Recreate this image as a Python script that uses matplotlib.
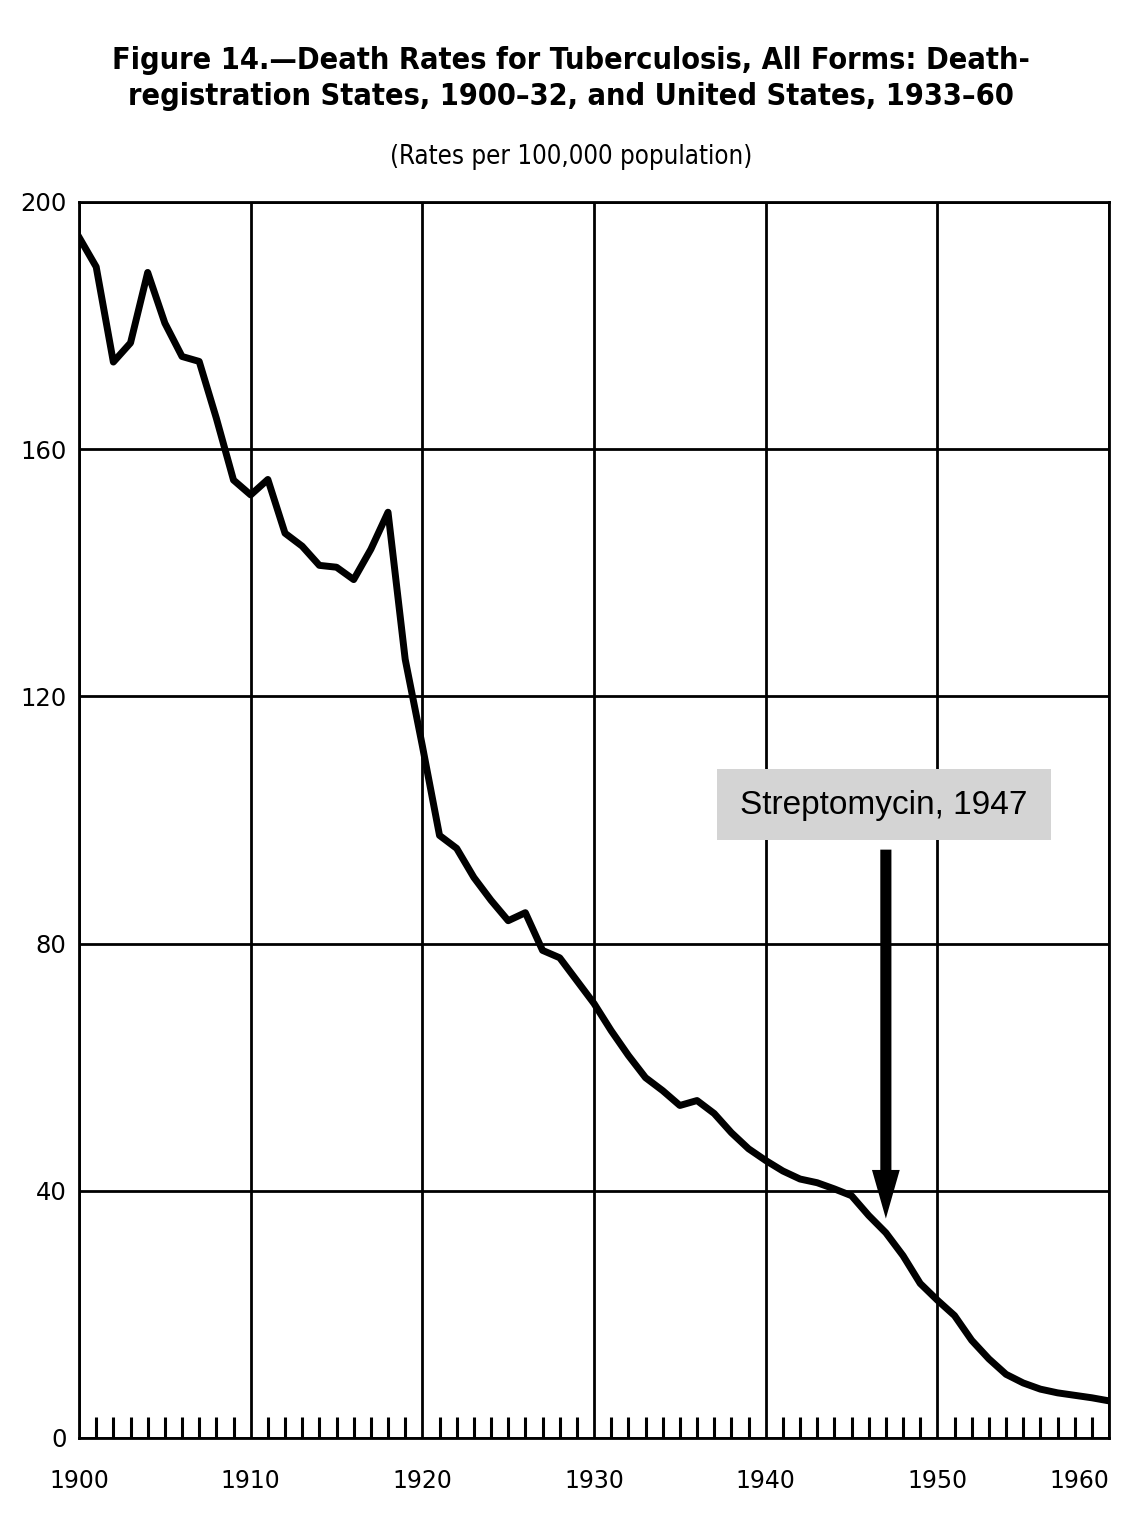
import matplotlib
matplotlib.use("Agg")
import matplotlib.pyplot as plt
from matplotlib.patches import Rectangle

# death rates per 100,000
years = list(range(1900, 1961))
rates = [
    194.3, 189.5, 174.1, 177.2, 188.6, 180.4, 175.0, 174.2, 165.0, 155.0,  # 1900s
    152.6, 155.1, 146.4, 144.3, 141.2, 140.9, 138.9, 143.8, 149.8, 126.0,  # 1910s
    112.0, 97.5, 95.4, 90.7, 87.0, 83.7, 85.0, 78.9, 77.7, 74.0,  # 1920s
    70.3, 65.9, 61.9, 58.3, 56.2, 53.8, 54.6, 52.5, 49.4, 46.8,  # 1930s
    44.9, 43.2, 41.9, 41.3, 40.3, 39.2, 36.0, 33.2, 29.5, 25.0,  # 1940s
    22.3, 19.8, 15.8, 12.8, 10.3, 8.9, 7.9, 7.3, 6.9, 6.5,  # 1950s
    6.0,
]

major_years = [1900, 1910, 1920, 1930, 1940, 1950, 1960]
y_ticks = [0, 40, 80, 120, 160, 200]

title = ("Figure 14.\u2014Death Rates for Tuberculosis, All Forms: Death-\n"
         "registration States, 1900\u201332, and United States, 1933\u201360")
subtitle = "(Rates per 100,000 population)"
note = "Streptomycin, 1947"
note_year = 1947

fig = plt.figure(figsize=(11.37, 15.13), dpi=100)
ax = fig.add_axes([0.0695, 0.0496, 0.9059, 0.8169])

ax.plot(years, rates, color="black", lw=5, solid_joinstyle="round", zorder=3)

ax.set_xlim(1900, 1960)
ax.set_ylim(0, 200)
ax.set_xticks(major_years)
ax.set_xticks([y for y in years if y % 10 != 0], minor=True)
ax.set_yticks(y_ticks)
ax.grid(True, which="major", color="black", lw=2)

ax.tick_params(axis="x", which="major", length=0, pad=22, labelsize=17)
ax.tick_params(axis="x", which="minor", direction="in", length=15, width=2.2)
ax.tick_params(axis="y", which="major", length=0, pad=9, labelsize=17.5)
ax.tick_params(axis="y", which="minor", length=0)
labels = ax.get_xticklabels()
labels[-1].set_horizontalalignment("right")
labels[-1].set_x(1960.3)

for s in ax.spines.values():
    s.set_linewidth(2)

# annotation box and arrow
ax.add_patch(Rectangle((1937.15, 96.7), 19.45, 11.5, facecolor="#d4d4d4",
                       edgecolor="none", zorder=4))
ax.text(note_year - 0.1, 102.4, note, ha="center", va="center", fontsize=24,
        family=["Liberation Sans", "DejaVu Sans"], zorder=5)
ax.annotate("", xy=(note_year, 35.5), xytext=(note_year, 95.2),
            arrowprops=dict(arrowstyle="simple,head_width=20,head_length=35,tail_width=8",
                            mutation_scale=1, color="black", lw=0,
                            shrinkA=0, shrinkB=0), zorder=5)

fig.text(0.502, 0.948, title, ha="center", va="center", fontsize=22,
         fontweight="bold", fontstretch="condensed", linespacing=1.3,
         family=["DejaVu Sans"])
fig.text(0.502, 0.896, subtitle, ha="center", va="center", fontsize=18.5,
         fontstretch="condensed", family=["DejaVu Sans"])

fig.savefig("out.png", dpi=100, facecolor="white")
